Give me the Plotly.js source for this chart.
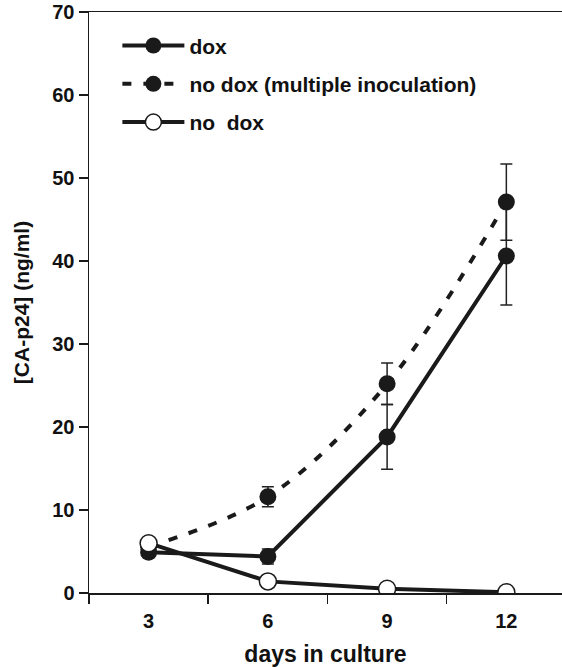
<!DOCTYPE html>
<html>
<head>
<meta charset="utf-8">
<script src="https://cdn.plot.ly/plotly-3.0.1.min.js"></script>
<style>html,body{margin:0;padding:0;background:#fff;}#chart{width:562px;height:667px;}</style>
</head>
<body>
<div id="chart"></div>
<script>
const days = [3, 6, 9, 12];
const doxValues = [4.9, 4.4, 18.8, 40.6];
const doxErrors = [0.4, 0.9, 3.9, 5.9];
const multiValues = [5.6, 11.6, 25.2, 47.1];
const multiErrors = [0.3, 1.2, 2.5, 4.6];
const noDoxValues = [6.0, 1.4, 0.5, 0.1];
const noDoxErrors = [0.2, 0.2, 0.1, 0.1];
const seriesNames = ['dox', 'no dox (multiple inoculation)', 'no\u00a0 dox'];
const xTickVals = [3, 6, 9, 12];
const xMinorTicks = [1.5, 4.5, 7.5, 10.5];
const yTickVals = [0, 10, 20, 30, 40, 50, 60, 70];

const font = {family: 'Liberation Sans, Arial, sans-serif', color: '#111'};
const errStyle = {type: 'data', visible: true, color: '#222', thickness: 1.5, width: 6};

const traces = [
  {
    x: days, y: doxValues, name: seriesNames[0], legendgroup: 'a', type: 'scatter', mode: 'lines+markers',
    line: {color: '#1a1a1a', width: 4},
    marker: {color: '#1a1a1a', size: 17, symbol: 'circle'},
    error_y: Object.assign({array: doxErrors}, errStyle)
  },
  {
    x: days, y: multiValues, name: seriesNames[1], legendgroup: 'b', type: 'scatter', mode: 'lines+markers',
    line: {color: '#1a1a1a', width: 4, dash: '9px,12px', shape: 'spline'},
    marker: {color: '#1a1a1a', size: 17, symbol: 'circle'},
    error_y: Object.assign({array: multiErrors}, errStyle)
  },
  {
    x: days, y: noDoxValues, name: seriesNames[2], legendgroup: 'c', type: 'scatter', mode: 'lines+markers',
    line: {color: '#1a1a1a', width: 4},
    marker: {color: '#fff', size: 17, symbol: 'circle', line: {color: '#1a1a1a', width: 1.5}},
    error_y: Object.assign({array: noDoxErrors}, errStyle)
  }
];

const layout = {
  width: 562, height: 667,
  margin: {l: 89, r: 0, t: 12, b: 74},
  paper_bgcolor: '#fff', plot_bgcolor: '#fff',
  showlegend: true,
  legend: {
    x: 0.06, y: 0.977, xanchor: 'left', yanchor: 'top',
    font: Object.assign({size: 21, weight: 'bold'}, font),
    bgcolor: 'rgba(0,0,0,0)', tracegroupgap: 8, itemwidth: 62
  },
  xaxis: {
    range: [1.5, 13.4],
    tickvals: xTickVals, ticktext: xTickVals.map(String),
    ticks: '', showgrid: false, zeroline: false,
    showline: true, linecolor: '#1a1a1a', linewidth: 1.5, mirror: true,
    minor: {tickmode: 'array', tickvals: xMinorTicks, ticks: 'outside', ticklen: 9, tickcolor: '#1a1a1a', tickwidth: 1.5, showgrid: false},
    ticklabelstandoff: 9,
    tickfont: Object.assign({size: 20, weight: 'bold'}, font),
    title: {text: 'days in culture', font: Object.assign({size: 23, weight: 'bold'}, font), standoff: 22}
  },
  yaxis: {
    range: [0, 70],
    tickvals: yTickVals, ticktext: yTickVals.map(String),
    ticks: 'outside', ticklen: 9, tickcolor: '#1a1a1a', tickwidth: 1.5,
    showgrid: false, zeroline: false,
    showline: true, linecolor: '#1a1a1a', linewidth: 1.5,
    tickfont: Object.assign({size: 20, weight: 'bold'}, font),
    title: {text: '[CA-p24] (ng/ml)', font: Object.assign({size: 21, weight: 'bold'}, font), standoff: 17}
  }
};

Plotly.newPlot('chart', traces, layout, {displayModeBar: false, staticPlot: true});
</script>
</body>
</html>
